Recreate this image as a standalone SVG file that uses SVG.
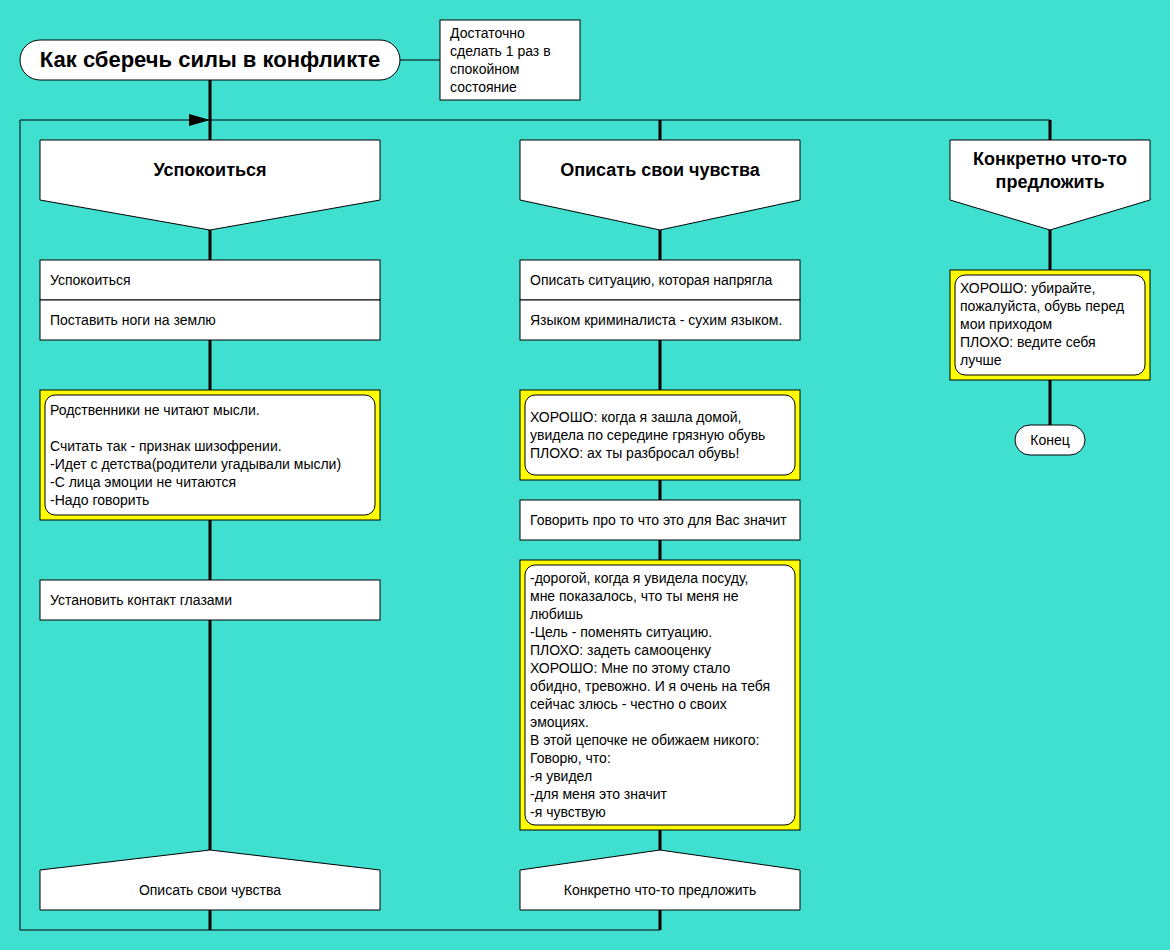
<svg xmlns="http://www.w3.org/2000/svg" width="1170" height="950" viewBox="0 0 1170 950">
<defs>
<style>
.bg{fill:#40E0D0}
.box{fill:#fff;stroke:#000;stroke-width:1}
.yel{fill:#ffff00;stroke:#000;stroke-width:1}
.thin{stroke:#000;stroke-width:1;fill:none}
.thick{stroke:#000;stroke-width:3;fill:none}
text{font-family:"Liberation Sans",Arial,sans-serif;fill:#000}
.t{font-size:14px}
.h{font-size:18px;font-weight:bold;text-anchor:middle}
.c{text-anchor:middle}
</style>
<marker id="arr" markerWidth="22" markerHeight="14" refX="21" refY="7" orient="auto" markerUnits="userSpaceOnUse">
<path d="M0,1 L21,7 L0,13 Z" fill="#000"/>
</marker>
</defs>
<rect class="bg" x="0" y="0" width="1170" height="950"/>
<g id="connectors">
<line class="thin" x1="400" y1="60" x2="440" y2="60"/>
<line class="thick" x1="210" y1="80" x2="210" y2="140"/>
<polyline class="thin" points="660,930 20,930 20,120 210,120" marker-end="url(#arr)"/>
<line class="thin" x1="210" y1="120" x2="1050" y2="120"/>
<line class="thick" x1="660" y1="120" x2="660" y2="140"/>
<line class="thick" x1="1050" y1="120" x2="1050" y2="140"/>
<line class="thick" x1="210" y1="230" x2="210" y2="260"/>
<line class="thick" x1="210" y1="340" x2="210" y2="390"/>
<line class="thick" x1="210" y1="520" x2="210" y2="580"/>
<line class="thick" x1="210" y1="620" x2="210" y2="850"/>
<line class="thick" x1="210" y1="910" x2="210" y2="930"/>
<line class="thick" x1="660" y1="230" x2="660" y2="260"/>
<line class="thick" x1="660" y1="340" x2="660" y2="390"/>
<line class="thick" x1="660" y1="480" x2="660" y2="500"/>
<line class="thick" x1="660" y1="540" x2="660" y2="560"/>
<line class="thick" x1="660" y1="830" x2="660" y2="850"/>
<line class="thick" x1="660" y1="910" x2="660" y2="930"/>
<line class="thick" x1="1050" y1="230" x2="1050" y2="270"/>
<line class="thick" x1="1050" y1="380" x2="1050" y2="425"/>
</g>
<g id="title">
<rect class="box" x="20" y="40" width="380" height="40" rx="20"/>
<text x="210" y="67" font-size="22" font-weight="bold" text-anchor="middle">Как сберечь силы в конфликте</text>
</g>
<g id="note">
<rect class="box" x="440" y="20" width="140" height="80"/>
<text class="t" x="450" y="38">Достаточно</text>
<text class="t" x="450" y="56">сделать 1 раз в</text>
<text class="t" x="450" y="74">спокойном</text>
<text class="t" x="450" y="92">состояние</text>
</g>
<g id="h1">
<polygon class="box" points="40,140 380,140 380,200 210,230 40,200"/>
<text class="h" x="210" y="176">Успокоиться</text>
</g>
<g id="n1a">
<rect class="box" x="40" y="260" width="340" height="40"/>
<text class="t" x="50" y="285">Успокоиться</text>
</g>
<g id="n1b">
<rect class="box" x="40" y="300" width="340" height="40"/>
<text class="t" x="50" y="325">Поставить ноги на землю</text>
</g>
<g id="n1c">
<rect class="yel" x="40" y="390" width="340" height="130"/>
<rect class="box" x="45" y="395" width="330" height="120" rx="10"/>
<text class="t" x="50" y="415">Родственники не читают мысли.</text>
<text class="t" x="50" y="451">Считать так - признак шизофрении.</text>
<text class="t" x="50" y="469">-Идет с детства(родители угадывали мысли)</text>
<text class="t" x="50" y="487">-С лица эмоции не читаются</text>
<text class="t" x="50" y="505">-Надо говорить</text>
</g>
<g id="n1d">
<rect class="box" x="40" y="580" width="340" height="40"/>
<text class="t" x="50" y="605">Установить контакт глазами</text>
</g>
<g id="f1">
<polygon class="box" points="40,870 210,850 380,870 380,910 40,910"/>
<text class="t c" x="210" y="895">Описать свои чувства</text>
</g>
<g id="h2">
<polygon class="box" points="520,140 800,140 800,200 660,230 520,200"/>
<text class="h" x="660" y="176">Описать свои чувства</text>
</g>
<g id="n2a">
<rect class="box" x="520" y="260" width="280" height="40"/>
<text class="t" x="530" y="285">Описать ситуацию, которая напрягла</text>
</g>
<g id="n2b">
<rect class="box" x="520" y="300" width="280" height="40"/>
<text class="t" x="530" y="325">Языком криминалиста - сухим языком.</text>
</g>
<g id="n2c">
<rect class="yel" x="520" y="390" width="280" height="90"/>
<rect class="box" x="525" y="395" width="270" height="80" rx="10"/>
<text class="t" x="530" y="422">ХОРОШО: когда я зашла домой,</text>
<text class="t" x="530" y="440">увидела по середине грязную обувь</text>
<text class="t" x="530" y="458">ПЛОХО: ах ты разбросал обувь!</text>
</g>
<g id="n2d">
<rect class="box" x="520" y="500" width="280" height="40"/>
<text class="t" x="530" y="525">Говорить про то что это для Вас значит</text>
</g>
<g id="n2e">
<rect class="yel" x="520" y="560" width="280" height="270"/>
<rect class="box" x="525" y="565" width="270" height="260" rx="10"/>
<text class="t" x="530" y="583">-дорогой, когда я увидела посуду,</text>
<text class="t" x="530" y="601">мне показалось, что ты меня не</text>
<text class="t" x="530" y="619">любишь</text>
<text class="t" x="530" y="637">-Цель - поменять ситуацию.</text>
<text class="t" x="530" y="655">ПЛОХО: задеть самооценку</text>
<text class="t" x="530" y="673">ХОРОШО: Мне по этому стало</text>
<text class="t" x="530" y="691">обидно, тревожно. И я очень на тебя</text>
<text class="t" x="530" y="709">сейчас злюсь - честно о своих</text>
<text class="t" x="530" y="727">эмоциях.</text>
<text class="t" x="530" y="745">В этой цепочке не обижаем никого:</text>
<text class="t" x="530" y="763">Говорю, что:</text>
<text class="t" x="530" y="781">-я увидел</text>
<text class="t" x="530" y="799">-для меня это значит</text>
<text class="t" x="530" y="817">-я чувствую</text>
</g>
<g id="f2">
<polygon class="box" points="520,870 660,850 800,870 800,910 520,910"/>
<text class="t c" x="660" y="895">Конкретно что-то предложить</text>
</g>
<g id="h3">
<polygon class="box" points="950,140 1150,140 1150,200 1050,230 950,200"/>
<text class="h" x="1050" y="165">Конкретно что-то</text>
<text class="h" x="1050" y="188">предложить</text>
</g>
<g id="n3a">
<rect class="yel" x="950" y="270" width="200" height="110"/>
<rect class="box" x="955" y="275" width="190" height="100" rx="10"/>
<text class="t" x="960" y="293">ХОРОШО: убирайте,</text>
<text class="t" x="960" y="311">пожалуйста, обувь перед</text>
<text class="t" x="960" y="329">мои приходом</text>
<text class="t" x="960" y="347">ПЛОХО: ведите себя</text>
<text class="t" x="960" y="365">лучше</text>
</g>
<g id="end">
<rect class="box" x="1015" y="425" width="70" height="30" rx="15"/>
<text class="t c" x="1050" y="445">Конец</text>
</g>
</svg>
